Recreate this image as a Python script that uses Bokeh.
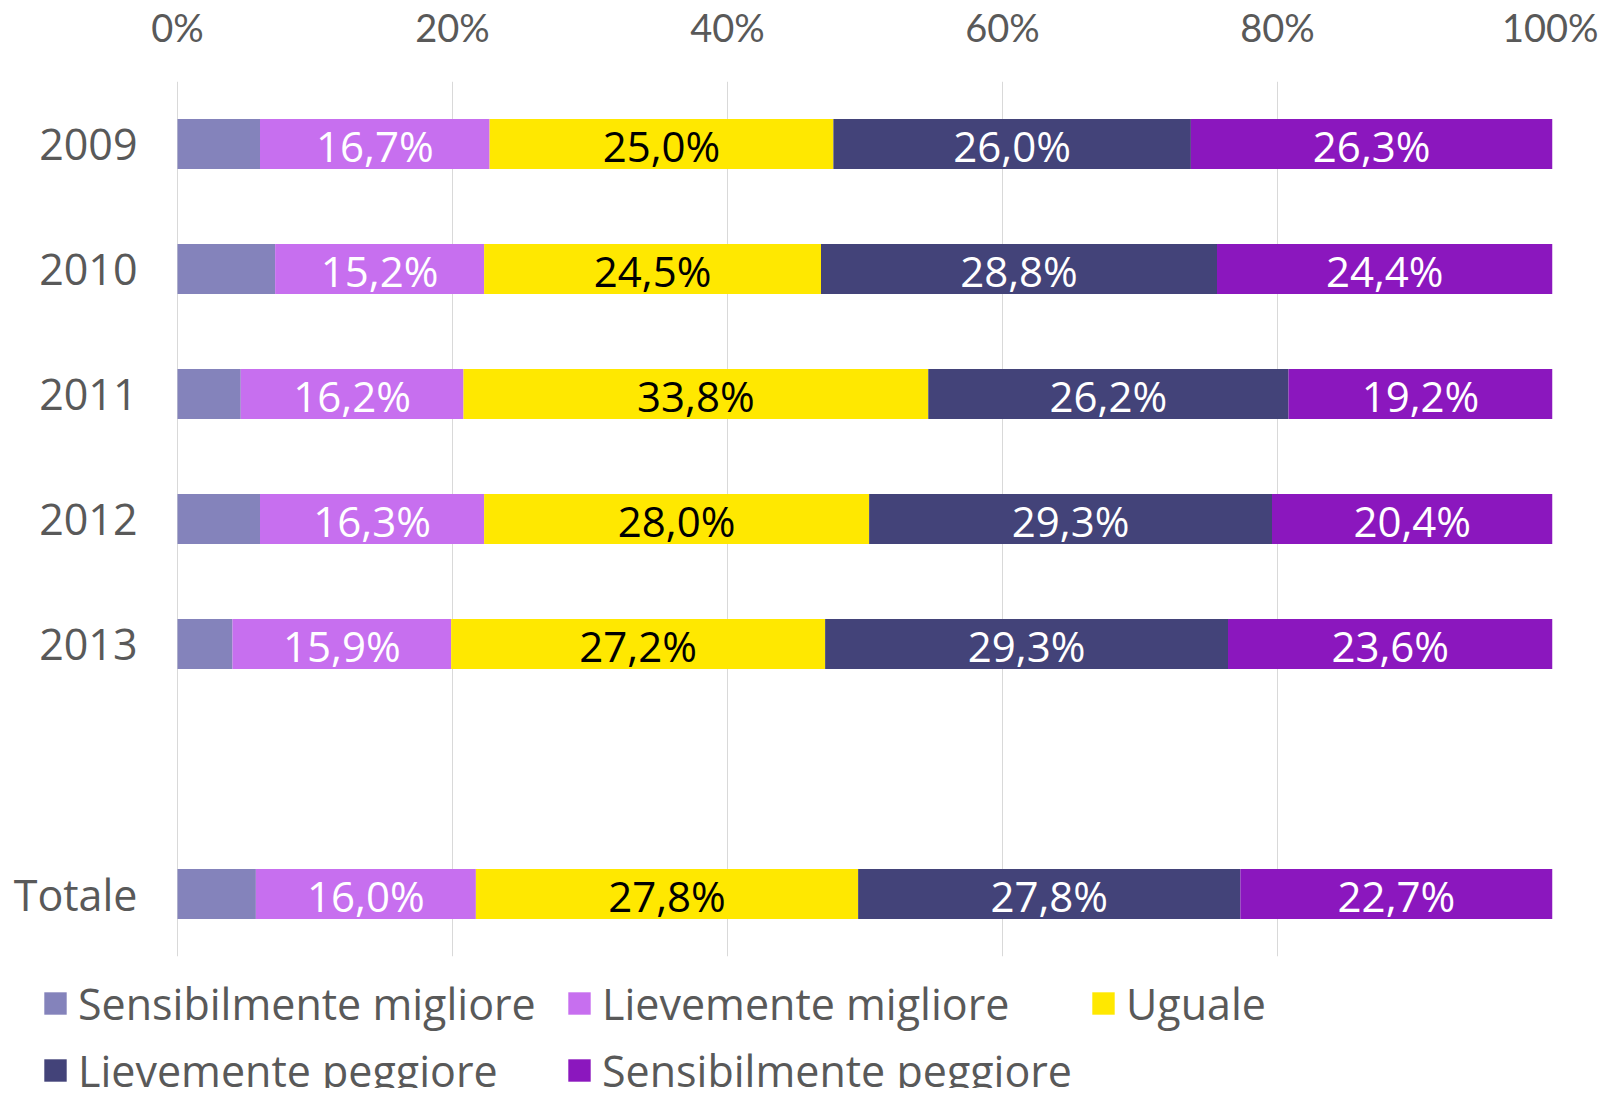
from bokeh.plotting import figure
from bokeh.layouts import column
from bokeh.models import (ColumnDataSource, FactorRange, Range1d, FixedTicker,
                          PrintfTickFormatter, LabelSet, Legend, LegendItem)
from bokeh.core.properties import value
from bokeh.embed import file_html
from bokeh.resources import INLINE

categories = ["2009", "2010", "2011", "2012", "2013", " ", "Totale"]
series = ["Sensibilmente migliore", "Lievemente migliore", "Uguale",
          "Lievemente peggiore", "Sensibilmente peggiore"]
sens_migliore = [6.0, 7.1, 4.6, 6.0, 4.0, 0.0, 5.7]
liev_migliore = [16.7, 15.2, 16.2, 16.3, 15.9, 0.0, 16.0]
uguale = [25.0, 24.5, 33.8, 28.0, 27.2, 0.0, 27.8]
liev_peggiore = [26.0, 28.8, 26.2, 29.3, 29.3, 0.0, 27.8]
sens_peggiore = [26.3, 24.4, 19.2, 20.4, 23.6, 0.0, 22.7]
colors = ["#8483BB", "#C76FEF", "#FFE800", "#434379", "#8B17BE"]
label_colors = ["white", "white", "black", "white", "white"]
x_ticks = [0, 20, 40, 60, 80, 100]

values = [sens_migliore, liev_migliore, uguale, liev_peggiore, sens_peggiore]
keys = ["s0", "s1", "s2", "s3", "s4"]
data = {"cat": categories}
for k, v in zip(keys, values):
    data[k] = v
source = ColumnDataSource(data)

FONT = "Open Sans"
GRAY = "#595959"

# layout: the frame starts at the canvas' left edge; the space for the
# category labels is an extension of the x range to the left of 0 %
LEFT_PX = 177
BAR_PX = 1375
x_start = -100.0 * LEFT_PX / BAR_PX

p = figure(y_range=FactorRange(factors=categories[::-1], range_padding=0),
           x_range=Range1d(x_start, 100),
           width=1598, height=956, output_backend="svg", toolbar_location=None,
           x_axis_location="above", y_axis_location=None,
           min_border_left=0, min_border_right=46, min_border_top=70,
           min_border_bottom=3)
p.frame_width = LEFT_PX + BAR_PX
p.frame_height = 875
p.outline_line_color = None

renderers = p.hbar_stack(keys, y="cat", height=0.4, source=source, color=colors,
                         line_color=None)

# bar value labels (skip the small first segment and the blank row)
for i in range(1, 5):
    xs, ys, txt = [], [], []
    for j, c in enumerate(categories):
        if values[i][j] == 0:
            continue
        start = sum(values[k][j] for k in range(i))
        xs.append(start + values[i][j] / 2)
        ys.append(c)
        txt.append(("%.1f%%" % values[i][j]).replace(".", ","))
    ls = LabelSet(x="x", y="y", text="t",
                  source=ColumnDataSource(dict(x=xs, y=ys, t=txt)),
                  text_align="center", text_baseline="middle",
                  text_font=value(FONT), text_font_size=value("42px"),
                  text_color=value(label_colors[i]), y_offset=-1)
    p.add_layout(ls)

# category labels (left of 0 %)
cat_src = ColumnDataSource(dict(x=[0] * len(categories), y=categories, t=categories))
p.add_layout(LabelSet(x="x", y="y", text="t", source=cat_src,
                      text_align="right", text_baseline="middle", x_offset=-40,
                      text_font=value(FONT), text_font_size=value("43px"),
                      text_color=value(GRAY)))

# top axis
p.xaxis.ticker = FixedTicker(ticks=x_ticks)
p.xaxis.formatter = PrintfTickFormatter(format="%d%%")
p.xaxis.axis_line_color = None
p.xaxis.major_tick_line_color = None
p.xaxis.minor_tick_line_color = None
p.xaxis.major_tick_out = 0
p.xaxis.major_label_standoff = 32
p.xaxis.major_label_text_font = "Lato"
p.xaxis.major_label_text_font_size = "38px"
p.xaxis.major_label_text_color = GRAY

p.xgrid.ticker = FixedTicker(ticks=x_ticks)
p.xgrid.grid_line_color = "#D9D9D9"
p.xgrid.grid_line_width = 1
p.ygrid.grid_line_color = None

# legend figure: proxies are the same stacked bars, shown only on the blank row
lf = figure(width=1598, height=129, output_backend="svg", toolbar_location=None,
            x_range=Range1d(0, 100), y_range=FactorRange(factors=[" "]),
            x_axis_location=None, y_axis_location=None,
            min_border=0)
lf.outline_line_color = None
lf.xgrid.visible = False
lf.ygrid.visible = False
leg_renderers = lf.hbar_stack(keys, y="cat", height=0.4, source=source,
                              color=colors, line_color=None)
legend = Legend(items=[LegendItem(label=s, renderers=[r]) for s, r in zip(series, leg_renderers)],
                orientation="horizontal", ncols=3,
                location=(41, -12),
                glyph_width=28, glyph_height=28, label_standoff=9,
                label_width=480, label_height=60, spacing=7, padding=0, margin=0,
                border_line_color=None, background_fill_alpha=0,
                label_text_font=FONT, label_text_font_size="43px",
                label_text_color=GRAY)
lf.add_layout(legend, "center")

layout = column(p, lf, spacing=0)
open("out.html", "w").write(file_html(layout, INLINE))
